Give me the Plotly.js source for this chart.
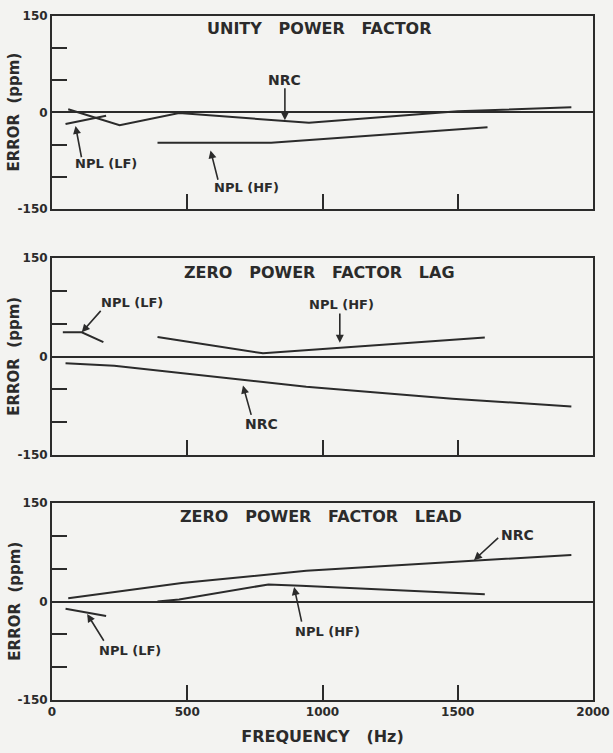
<!DOCTYPE html>
<html>
<head>
<meta charset="utf-8">
<script src="https://cdn.plot.ly/plotly-3.0.1.min.js"></script>
<style>
  html, body { margin: 0; padding: 0; background: #f3f3f1; }
  #chart { width: 613px; height: 753px; }
</style>
</head>
<body>
<div id="chart"></div>
<script>
// ---- Data (frequency in Hz, error in ppm) ----
// Panel 1: Unity power factor
const unityNRC_f    = [60, 250, 470, 950, 1500, 1920];
const unityNRC_e    = [5, -20, -1, -16, 2, 8];
const unityLF_f     = [50, 200];
const unityLF_e     = [-18, -5];
const unityHF_f     = [390, 810, 1610];
const unityHF_e     = [-47, -47, -23];

// Panel 2: Zero power factor lag
const lagNRC_f      = [50, 230, 940, 1480, 1920];
const lagNRC_e      = [-10, -14, -46, -64, -76];
const lagLF_f       = [40, 110, 190];
const lagLF_e       = [37, 37, 22];
const lagHF_f       = [390, 780, 1600];
const lagHF_e       = [30, 5, 29];

// Panel 3: Zero power factor lead
const leadNRC_f     = [60, 480, 940, 1550, 1920];
const leadNRC_e     = [5, 28, 47, 62, 71];
const leadLF_f      = [50, 200];
const leadLF_e      = [-11, -22];
const leadHF_f      = [390, 470, 800, 920, 1600];
const leadHF_e      = [0, 3, 26, 24, 11];

// Axis ticks / labels
const xTickVals   = [0, 500, 1000, 1500, 2000];
const xTickText   = ['0', '500', '1000', '1500', '2000'];
const yTickVals   = [-150, -100, -50, 0, 50, 100, 150];
const yTickText   = ['-150', '', '', '0', '', '', '150'];
const panelTitles = ['UNITY   POWER   FACTOR', 'ZERO   POWER   FACTOR   LAG', 'ZERO   POWER   FACTOR   LEAD'];

const ink = '#2b2b2b';
const fontFam = 'DejaVu Sans, Liberation Sans, Arial, sans-serif';

function line(x, y, xa, ya) {
  return { x: x, y: y, xaxis: xa, yaxis: ya, type: 'scatter', mode: 'lines',
           line: { color: ink, width: 2 }, hoverinfo: 'skip', showlegend: false };
}

const data = [
  line(unityNRC_f, unityNRC_e, 'x', 'y'),
  line(unityLF_f, unityLF_e, 'x', 'y'),
  line(unityHF_f, unityHF_e, 'x', 'y'),
  line(lagNRC_f, lagNRC_e, 'x2', 'y2'),
  line(lagLF_f, lagLF_e, 'x2', 'y2'),
  line(lagHF_f, lagHF_e, 'x2', 'y2'),
  line(leadNRC_f, leadNRC_e, 'x3', 'y3'),
  line(leadLF_f, leadLF_e, 'x3', 'y3'),
  line(leadHF_f, leadHF_e, 'x3', 'y3')
];

const tickFont = { family: fontFam, size: 12, color: ink, weight: 'bold' };

function xAxis(anchor, showLabels, title) {
  const ax = {
    anchor: anchor, range: [0, 2000], domain: [0, 1],
    tickvals: xTickVals, ticktext: xTickText, showticklabels: showLabels,
    ticks: 'inside', ticklen: 15, tickwidth: 2, tickcolor: ink,
    showline: true, mirror: true, linecolor: ink, linewidth: 2,
    showgrid: false, zeroline: false, tickfont: tickFont
  };
  if (title) ax.title = { text: title, standoff: 12, font: { family: fontFam, size: 16, color: ink, weight: 'bold' } };
  return ax;
}
function yAxis(anchor, domain) {
  return {
    anchor: anchor, range: [-150, 150], domain: domain,
    tickvals: yTickVals, ticktext: yTickText,
    ticks: 'inside', ticklen: 15, tickwidth: 2, tickcolor: ink,
    showline: true, mirror: true, linecolor: ink, linewidth: 2,
    showgrid: false, zeroline: true, zerolinecolor: ink, zerolinewidth: 2,
    tickfont: tickFont
  };
}

const lblFont = { family: fontFam, size: 13, color: ink, weight: 'bold' };
function label(text, x, y, xr, yr, size) {
  return { text: text, x: x, y: y, xref: xr, yref: yr, showarrow: false,
           font: Object.assign({}, lblFont, size ? { size: size } : {}) };
}
function arrow(hx, hy, tx, ty, xr, yr) {
  return { text: '', x: hx, y: hy, ax: tx, ay: ty, xref: xr, yref: yr, axref: xr, ayref: yr,
           showarrow: true, arrowhead: 2, arrowsize: 1, arrowwidth: 1.6, arrowcolor: ink, standoff: 0 };
}
function yTitle(yCenter) {
  return { text: 'ERROR  (ppm)', textangle: -90, x: -0.07, y: yCenter, xref: 'paper', yref: 'paper',
           xanchor: 'center', yanchor: 'middle', showarrow: false,
           font: { family: fontFam, size: 15, color: ink, weight: 'bold' } };
}

const annotations = [
  // Panel titles
  label(panelTitles[0], 990, 131, 'x', 'y', 16),
  label(panelTitles[1], 990, 128, 'x2', 'y2', 16),
  label(panelTitles[2], 995, 130, 'x3', 'y3', 16),
  // Panel 1
  label('NRC', 861, 50, 'x', 'y', 14),
  arrow(861, -12, 861, 40, 'x', 'y'),
  label('NPL (LF)', 200, -80, 'x', 'y'),
  arrow(87, -21, 110, -72, 'x', 'y'),
  label('NPL (HF)', 718, -117, 'x', 'y'),
  arrow(586, -59, 615, -107, 'x', 'y'),
  // Panel 2
  label('NPL (LF)', 297, 82, 'x2', 'y2'),
  arrow(110, 37, 185, 72, 'x2', 'y2'),
  label('NPL (HF)', 1071, 80, 'x2', 'y2'),
  arrow(1064, 21, 1064, 68, 'x2', 'y2'),
  label('NRC', 774, -102, 'x2', 'y2', 14),
  arrow(706, -44, 738, -91, 'x2', 'y2'),
  // Panel 3
  label('NRC', 1721, 102, 'x3', 'y3', 14),
  arrow(1560, 63, 1655, 99, 'x3', 'y3'),
  label('NPL (HF)', 1018, -45, 'x3', 'y3'),
  arrow(895, 22, 924, -33, 'x3', 'y3'),
  label('NPL (LF)', 289, -75, 'x3', 'y3'),
  arrow(130, -19, 195, -62, 'x3', 'y3'),
  // Y axis titles
  yTitle(0.859), yTitle(0.502), yTitle(0.144)
];

const layout = {
  width: 613, height: 753,
  margin: { l: 52, r: 20, t: 16, b: 53 },
  paper_bgcolor: '#f3f3f1', plot_bgcolor: '#f3f3f1',
  showlegend: false,
  xaxis: xAxis('y', false),
  xaxis2: xAxis('y2', false),
  xaxis3: xAxis('y3', true, 'FREQUENCY   (Hz)'),
  yaxis: yAxis('x', [0.718, 1]),
  yaxis2: yAxis('x2', [0.358, 0.646]),
  yaxis3: yAxis('x3', [0, 0.288]),
  annotations: annotations,
  font: { family: fontFam, color: ink }
};

Plotly.newPlot('chart', data, layout, { staticPlot: true, displayModeBar: false });
</script>
</body>
</html>
